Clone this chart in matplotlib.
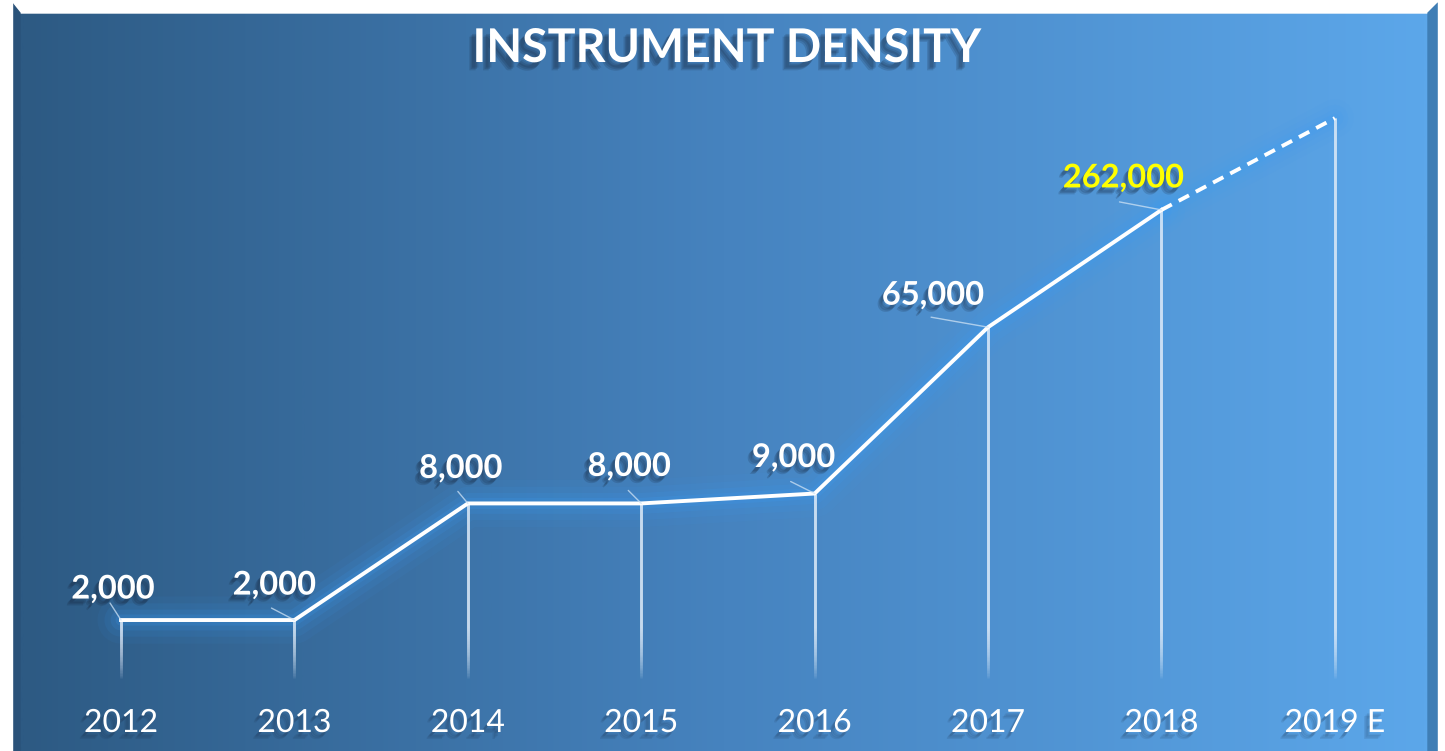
import numpy as np
import matplotlib
matplotlib.use("Agg")
import matplotlib.pyplot as plt
import matplotlib.patheffects as pe
from matplotlib.colors import LinearSegmentedColormap
from matplotlib.patches import Polygon

plt.rcParams["font.family"] = ["Lato", "DejaVu Sans"]

# data (2019 E is an estimate, no label shown)
YEARS = ["2012", "2013", "2014", "2015", "2016", "2017", "2018", "2019 E"]
VALUES = [2000, 2000, 8000, 8000, 9000, 65000, 262000, 780000]
LABELS = ["2,000", "2,000", "8,000", "8,000", "9,000", "65,000", "262,000", None]
TITLE = "INSTRUMENT DENSITY"

# label placement (pixel offsets from the point) and leader-line starts
LABEL_OFFSETS = [(-8, 31), (-20, 35), (-7, 35), (-12, 37), (-21, 36), (-55, 32), (-38, 32)]
LEADER_OFFSETS = [(-11, 17), (-23, 12), (-10, 12), (-13, 13), (-24, 12), (-57, 10), (-42, 8)]
LABEL_COLORS = ["white"] * 6 + ["#ffff00"]

W, H = 1445, 751
fig = plt.figure(figsize=(W / 100, H / 100), dpi=100)
fig.patch.set_facecolor("white")


def soft_shadow(dx, dy, alpha, steps=3):
    # a few stacked offsets to fake a blurred drop shadow
    fx = [pe.SimplePatchShadow(offset=(dx - k, dy - k), shadow_rgbFace="#142238", alpha=alpha)
          for k in range(steps)]
    return fx + [pe.Normal()]


# background panel with bevel
bg = fig.add_axes([0, 0, 1, 1])
bg.set_xlim(0, W)
bg.set_ylim(H, 0)
bg.axis("off")
cmap = LinearSegmentedColormap.from_list("panel", ["#2d5a83", "#4683bf", "#5ca7ea"])
grad = np.linspace(0, 1, 512).reshape(1, -1)
bg.imshow(grad, cmap=cmap, aspect="auto", extent=(20, 1428, H, 13), zorder=0)
top_grad = LinearSegmentedColormap.from_list("top", ["#6a9fcc", "#86cdf9"])
bg.imshow(grad, cmap=top_grad, aspect="auto", extent=(12, 1438, 13, 3), zorder=0)
bg.add_patch(Polygon([(0, 0), (W, 0), (W, 3), (1438, 3), (1428, 13), (20, 13), (12, 3), (0, 3)],
                     closed=True, color="white", zorder=1))
bg.add_patch(Polygon([(12, 3), (20, 13), (20, H), (12, H)], closed=True, color="#2a5279", zorder=1))
bg.add_patch(Polygon([(1438, 3), (1428, 13), (1428, H), (1438, H)], closed=True, color="#3f7eb5", zorder=1))
bg.add_patch(Polygon([(0, 0), (12, 0), (12, H), (0, H)], closed=True, color="white", zorder=1))
bg.add_patch(Polygon([(1438, 0), (W, 0), (W, H), (1438, H)], closed=True, color="white", zorder=1))

# data axes, log scale
ax = fig.add_axes([0, 0, 1, 1])
ax.patch.set_alpha(0)
ax.set_yscale("log")
ax.set_xlim(-0.698, 7.635)
ax.set_ylim(10 ** 2.625, 10 ** 6.502)
ax.axis("off")

x = np.arange(len(YEARS))
vals = np.array(VALUES, dtype=float)

# glow under the main line
for lw, a in [(34, 0.06), (24, 0.09), (15, 0.13), (8, 0.18)]:
    ax.plot(x[:-1], vals[:-1], color="#3a9df6", lw=lw, alpha=a, solid_capstyle="round",
            solid_joinstyle="round", zorder=2)
    ax.plot(x[-2:], vals[-2:], color="#3a9df6", lw=lw * 0.8, alpha=a * 0.8,
            solid_capstyle="round", zorder=2)

# fading drop lines: overlapping strokes, so the bottom gets fewer layers
bottom = 1000.0
fade = 0.26
n_layers = 20
for xi, v in zip(x, vals):
    starts = np.logspace(np.log10(bottom), np.log10(bottom) + fade, n_layers)
    for s in starts:
        ax.plot([xi, xi], [s, v], color=(0.9, 0.95, 1.0), alpha=0.085, lw=2.0,
                solid_capstyle="butt", zorder=3)

# main line + dashed estimate
ax.plot(x[:-1], vals[:-1], color="white", lw=2.8, solid_joinstyle="miter", zorder=4)
ax.plot(x[-2:], vals[-2:], color="white", lw=2.8, ls=(0, (3, 2)), zorder=4)

# value labels with leader lines
for i, lab in enumerate(LABELS):
    if lab is None:
        continue
    ax.annotate("", xy=(x[i], vals[i]), xytext=LEADER_OFFSETS[i], textcoords="offset pixels",
                arrowprops=dict(arrowstyle="-", lw=1.0, color="#cfe3f5", alpha=0.75,
                                shrinkA=0, shrinkB=0), zorder=5)
    ax.annotate(lab, xy=(x[i], vals[i]), xytext=LABEL_OFFSETS[i], textcoords="offset pixels",
                ha="center", va="center", fontsize=23.5, fontweight="bold",
                color=LABEL_COLORS[i], path_effects=soft_shadow(-2, -3, 0.17), zorder=6)

# year labels
for xi, yr in zip(x, YEARS):
    ax.text(xi, 28 / H, yr, transform=ax.get_xaxis_transform(), ha="center", va="center",
            fontsize=23, color="white", zorder=6, path_effects=soft_shadow(-2, -3, 0.1))

fig.text(727 / W, 1 - 48 / H, TITLE, ha="center", va="center", fontsize=33.5, fontweight="bold",
         color="white", path_effects=soft_shadow(-3, -4, 0.17))

fig.savefig("out.png", dpi=100, facecolor="white")
